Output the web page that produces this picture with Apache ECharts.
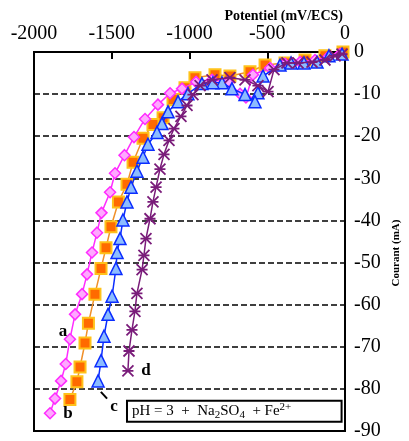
<!DOCTYPE html>
<html><head><meta charset="utf-8">
<script src="https://cdn.jsdelivr.net/npm/echarts@6/dist/echarts.min.js"></script>
<style>html,body{margin:0;padding:0;background:#fff}#c{width:409px;height:441px}</style>
</head><body><div id="c"></div>
<script>
// x tick values (mV/ECS) and y tick values (mA)
var xTicks = [-2000, -1500, -1000, -500, 0];
var yTicks = [0, -10, -20, -30, -40, -50, -60, -70, -80, -90];

// curve a (magenta diamonds)
var aX = [-32, -109, -193, -289, -386, -482, -592, -637, -675, -752, -855, -958, -1048, -1125, -1203, -1286, -1357, -1418, -1479, -1511, -1566, -1595, -1627, -1659, -1691, -1736, -1769, -1796, -1826, -1865, -1897];
var aY = [-0.5, -1.2, -1.9, -2.4, -2.8, -3.8, -5.4, -10.8, -9.9, -7.1, -6.6, -7.1, -8.7, -9.8, -12.5, -15.9, -20.2, -24.5, -28.8, -33.3, -38.2, -42.9, -47.6, -52.8, -57.5, -62.3, -68.2, -74.1, -78.1, -82.3, -85.8];
// curve b (orange squares)
var bX = [-13, -129, -257, -386, -514, -611, -740, -836, -965, -1029, -1106, -1170, -1235, -1299, -1363, -1402, -1457, -1505, -1537, -1569, -1608, -1650, -1672, -1704, -1724, -1769];
var bY = [0, -0.9, -1.9, -2.6, -3.1, -4.7, -5.7, -5.4, -6.1, -8.5, -11.3, -15.6, -17.2, -20.5, -26.2, -31.4, -35.6, -41.5, -46.5, -51.4, -57.5, -64.4, -69.1, -74.8, -78.3, -82.5];
// curve c (blue triangles)
var cX = [-19, -103, -180, -264, -347, -418, -527, -560, -579, -643, -727, -791, -849, -920, -1010, -1074, -1138, -1177, -1209, -1267, -1299, -1338, -1376, -1402, -1428, -1447, -1466, -1473, -1498, -1524, -1550, -1569, -1588];
var cY = [-0.5, -0.9, -2.4, -2.6, -2.6, -3.1, -5.7, -9.7, -11.8, -10.1, -8.7, -7.3, -7.3, -7.5, -9.9, -11.8, -14.2, -17.0, -19.1, -21.9, -25.0, -28.3, -32.1, -35.6, -39.9, -44.3, -47.6, -51.4, -58.0, -62.3, -67.5, -73.3, -78.1];
// curve d (purple crosses)
var dX = [-19, -64, -129, -212, -302, -373, -457, -495, -560, -643, -740, -855, -932, -978, -1016, -1055, -1100, -1132, -1164, -1190, -1215, -1235, -1254, -1280, -1293, -1305, -1338, -1351, -1370, -1389, -1396];
var dY = [-0.5, -0.9, -1.9, -2.4, -2.6, -2.6, -4.2, -9.4, -8.0, -6.6, -6.1, -6.6, -8.0, -10.1, -12.7, -15.3, -18.2, -21.0, -24.3, -27.8, -32.1, -35.6, -39.6, -44.3, -48.3, -51.7, -57.3, -61.6, -66.0, -71.0, -75.7];

// curve letter labels [text, x, y]
var curveLabels = [['a', -1814, -66.3], ['b', -1781, -85.8], ['c', -1486, -84.2], ['d', -1280, -75.7]];
var noteText = 'pH = 3  +  Na{s|2}SO{s|4}  + Fe{p|2+}';

function zip(xs, ys) { return xs.map(function (v, i) { return [v, ys[i]]; }); }
function fmt(v) { return (v < 0 ? '-' : '') + String(Math.abs(v)); }
var serif = 'Liberation Serif';
var chart = echarts.init(document.getElementById('c'));
var crossPath = 'path://M0,0L10,10M10,0L0,10M0,5L10,5';
chart.setOption({
  animation: false,
  grid: { left: 34, right: 64, top: 52, bottom: 7, show: true, borderColor: '#000', borderWidth: 2, containLabel: false },
  xAxis: {
    type: 'value', position: 'top', min: xTicks[0], max: xTicks[xTicks.length - 1], interval: 500,
    axisLine: { show: true, lineStyle: { color: '#000', width: 2 } },
    axisTick: { show: true, inside: true, length: 7, lineStyle: { color: '#000', width: 2 } },
    axisLabel: { color: '#000', fontFamily: serif, fontSize: 20, margin: 8, formatter: fmt },
    splitLine: { show: false }
  },
  yAxis: {
    type: 'value', position: 'right', min: yTicks[yTicks.length - 1], max: yTicks[0], interval: 10,
    axisLine: { show: true, lineStyle: { color: '#000', width: 2 } },
    axisTick: { show: false },
    axisLabel: { color: '#000', fontFamily: serif, fontSize: 20, margin: 9, formatter: fmt },
    splitLine: { show: true, lineStyle: { color: '#000', width: 1.5, type: [6, 3] } }
  },
  series: [
    { type: 'line', data: zip(bX, bY), symbol: 'rect', symbolSize: 11, z: 3,
      lineStyle: { color: '#f0902a', width: 1.5 },
      itemStyle: { color: '#ff6a00', borderColor: '#ffc21a', borderWidth: 2 } },
    { type: 'line', data: zip(aX, aY), symbol: 'diamond', symbolSize: 11, z: 4,
      lineStyle: { color: '#ff2cff', width: 1.5 },
      itemStyle: { color: '#ffa8ff', borderColor: '#ff2cff', borderWidth: 1.5 } },
    { type: 'line', data: zip(cX, cY), symbol: 'triangle', symbolSize: 12, z: 5,
      lineStyle: { color: '#0a2cff', width: 1.5 },
      itemStyle: { color: '#8cbcff', borderColor: '#0a2cff', borderWidth: 1.5 } },
    { type: 'line', data: zip(dX, dY), symbol: crossPath, symbolSize: 11, z: 6,
      lineStyle: { color: '#7a1c7a', width: 1.5 },
      itemStyle: { color: 'rgba(0,0,0,0)', borderColor: '#7a1c7a', borderWidth: 1.8 } }
  ]
});

function px(x, y) { return chart.convertToPixel({ gridIndex: 0 }, [x, y]); }
var g = [];
g.push({ type: 'text', right: 66, top: 9, style: { text: 'Potentiel (mV/ECS)', font: 'bold 14px "Liberation Serif"', fill: '#000' } });
g.push({ type: 'text', x: 396, y: 253, rotation: Math.PI / 2, style: { text: 'Courant (mA)', font: 'bold 11px "Liberation Serif"', fill: '#000', align: 'center', verticalAlign: 'middle' } });
curveLabels.forEach(function (l) {
  var p = px(l[1], l[2]);
  g.push({ type: 'text', x: p[0], y: p[1], z: 10, style: { text: l[0], font: 'bold 17px "Liberation Serif"', fill: '#000', align: 'center', verticalAlign: 'middle' } });
});
var c1 = px(-1570, -80.7), c2 = px(-1530, -82.3);
g.push({ type: 'line', z: 10, shape: { x1: c1[0], y1: c1[1], x2: c2[0], y2: c2[1] }, style: { stroke: '#000', lineWidth: 2 } });
var b1 = px(-1402, -82.8), b2 = px(-22, -87.8);
g.push({ type: 'rect', z: 10, shape: { x: b1[0], y: b1[1], width: b2[0] - b1[0], height: b2[1] - b1[1] }, style: { fill: '#fff', stroke: '#000', lineWidth: 2 } });
g.push({ type: 'text', z: 11, x: b1[0] + 5, y: (b1[1] + b2[1]) / 2, style: {
  text: noteText, fill: '#000', verticalAlign: 'middle', font: '15px "Liberation Serif"',
  rich: { s: { fontFamily: serif, fontSize: 11, padding: [8, 0, 0, 0] }, p: { fontFamily: serif, fontSize: 11, padding: [0, 0, 8, 0] } }
} });
chart.setOption({ graphic: g });
</script></body></html>
